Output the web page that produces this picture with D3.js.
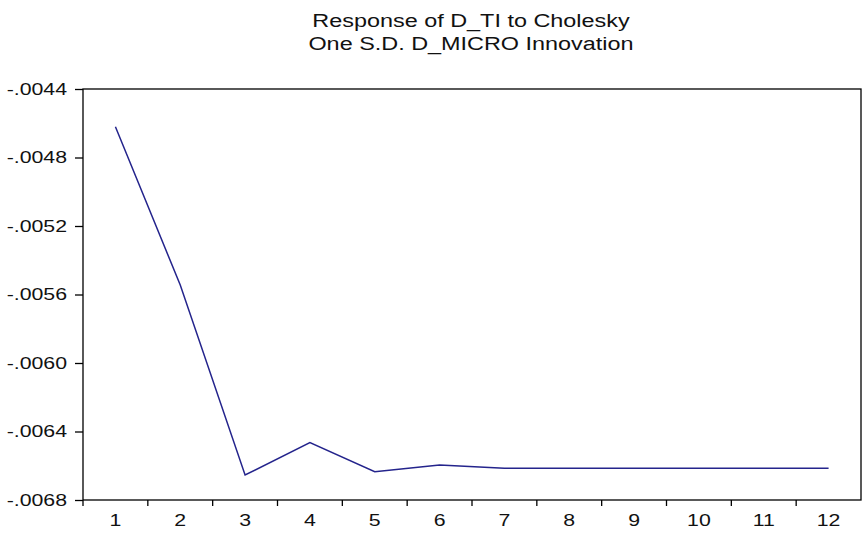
<!DOCTYPE html>
<html>
  <head>
    <meta charset="UTF-8" />
    <title>Response of D_TI to Cholesky</title>
    <script src="https://cdn.jsdelivr.net/npm/d3@7"></script>
    <style>
      body { margin: 0; background: #fff; }
      text { font-family: "Liberation Sans", Arial, sans-serif; fill: #111; }
    </style>
  </head>
  <body>
    <script>
      // periods and response values
      var periods = ["1", "2", "3", "4", "5", "6", "7", "8", "9", "10", "11", "12"];
      var response = [-0.00462, -0.005545, -0.006654, -0.006465, -0.006635, -0.006596,
                      -0.006615, -0.006615, -0.006615, -0.006615, -0.006615, -0.006615];
      var yTicks = [-0.0044, -0.0048, -0.0052, -0.0056, -0.0060, -0.0064, -0.0068];
      var titleLines = ["Response of D_TI to Cholesky", "One S.D. D_MICRO Innovation"];

      var width = 863, height = 533;
      var plotLeft = 83, plotRight = 861, plotTop = 89, plotBottom = 500;

      var svg = d3.select("body").append("svg")
        .attr("width", width)
        .attr("height", height);

      svg.append("rect").attr("width", width).attr("height", height).attr("fill", "#fff");

      var x = d3.scaleBand().domain(periods).range([plotLeft, plotRight]);
      var y = d3.scaleLinear().domain([-0.0068, -0.0044]).range([plotBottom, plotTop]);

      // title
      svg.append("g").attr("class", "title").selectAll("text")
        .data(titleLines)
        .enter().append("text")
        .attr("x", 471)
        .attr("y", function(d, i) { return 27 + i * 23; })
        .attr("text-anchor", "middle")
        .attr("font-size", 18)
        .text(function(d) { return d; });

      // frame
      svg.append("rect")
        .attr("x", plotLeft).attr("y", plotTop)
        .attr("width", plotRight - plotLeft).attr("height", plotBottom - plotTop)
        .attr("fill", "none")
        .attr("stroke", "#000")
        .attr("stroke-width", 1.3);

      // y axis, EViews style labels like "-.0044"
      var fmt = function(v) {
        return d3.format(".4f")(v).replace("\u2212", "-").replace("0.", ".");
      };
      var yAxis = svg.append("g")
        .attr("transform", "translate(" + plotLeft + ",0)")
        .call(d3.axisLeft(y).tickValues(yTicks).tickFormat(fmt).tickSize(8).tickPadding(8));
      yAxis.select(".domain").remove();
      yAxis.selectAll("line").attr("stroke", "#000").attr("stroke-width", 1.3);
      yAxis.selectAll("text").attr("font-size", 16).attr("font-family", null).attr("fill", "#111");

      // x axis: labels centred in each period, ticks on the period boundaries
      var xAxis = svg.append("g")
        .attr("transform", "translate(0," + plotBottom + ")")
        .call(d3.axisBottom(x).tickSize(0).tickPadding(15));
      xAxis.select(".domain").remove();
      xAxis.selectAll("text").attr("font-size", 16).attr("font-family", null).attr("fill", "#111");

      svg.append("g").selectAll("line")
        .data(periods)
        .enter().append("line")
        .attr("x1", function(d) { return x(d); })
        .attr("x2", function(d) { return x(d); })
        .attr("y1", plotBottom)
        .attr("y2", plotBottom + 6)
        .attr("stroke", "#000")
        .attr("stroke-width", 1.3);

      // response line
      var line = d3.line()
        .x(function(d, i) { return x(periods[i]) + x.bandwidth() / 2; })
        .y(function(d) { return y(d); });

      svg.append("path")
        .datum(response)
        .attr("d", line)
        .attr("fill", "none")
        .attr("stroke", "#24248c")
        .attr("stroke-width", 1.5);

      // the reference text is drawn wide, so stretch every label
      svg.selectAll("text").each(function() {
        var w = this.getComputedTextLength();
        var k = this.parentNode.getAttribute("class") == "title" ? 1.3 : 1.33;
        d3.select(this)
          .attr("textLength", w * k)
          .attr("lengthAdjust", "spacingAndGlyphs");
      });
    </script>
  </body>
</html>
